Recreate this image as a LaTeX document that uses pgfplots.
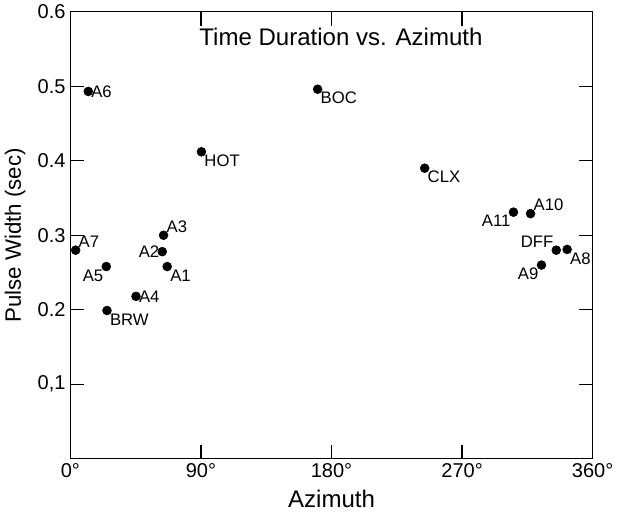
\documentclass[border=0pt]{standalone}
\usepackage{pgfplots}
\pgfplotsset{compat=1.18}
\usepackage{fontspec}
\setmainfont{Liberation Sans}

\pgfplotsset{station/.style={only marks, mark=*, mark size=3.2pt, black,
  nodes near coords, point meta=explicit symbolic,
  every node near coord/.append style={anchor=#1, font=\large, inner sep=2pt}}}

\begin{document}
\begin{tikzpicture}
\begin{axis}[
  scale only axis, width=13.2cm, height=11.3cm,
  xmin=0, xmax=360, ymin=0, ymax=0.6,
  xtick={0,90,180,270,360},
  xticklabels={0°,90°,180°,270°,360°},
  ytick={0.1,0.2,0.3,0.4,0.5,0.6},
  yticklabels={{0,1},0.2,0.3,0.4,0.5,0.6},
  tick align=inside, major tick length=0.35cm,
  axis line style={line width=1pt}, tick style={line width=1pt, black},
  tick label style={font=\Large},
  /pgf/number format/assume math mode=true,
  xlabel={\LARGE Azimuth}, ylabel={\fontsize{16}{18}\selectfont Pulse Width (sec)},
  xlabel style={yshift=-2pt}, ylabel style={yshift=2pt},
  title={\LARGE Time Duration vs. Azimuth},
  title style={at={(rel axis cs:0.518,0.925)}, anchor=center},
  clip=false,
]
% labels to the right
\addplot[station=west] coordinates {(12.3,0.493)[A6] (45.2,0.218)[A4]};
% labels below right
\addplot[station=north west] coordinates {(90.3,0.412)[HOT] (170.4,0.496)[BOC]
  (244.2,0.390)[CLX] (66.7,0.258)[A1] (25.2,0.199)[BRW] (342.4,0.281)[A8]};
% labels above right
\addplot[station=south west] coordinates {(3.6,0.280)[A7] (64.2,0.300)[A3] (317.2,0.329)[A10]};
% labels below left
\addplot[station=north east] coordinates {(24.7,0.258)[A5] (305.4,0.331)[A11] (324.7,0.260)[A9]};
% labels to the left
\addplot[station=east] coordinates {(63.3,0.278)[A2]};
% labels above left
\addplot[station=south east] coordinates {(334.9,0.280)[DFF]};
\end{axis}
\end{tikzpicture}
\end{document}
